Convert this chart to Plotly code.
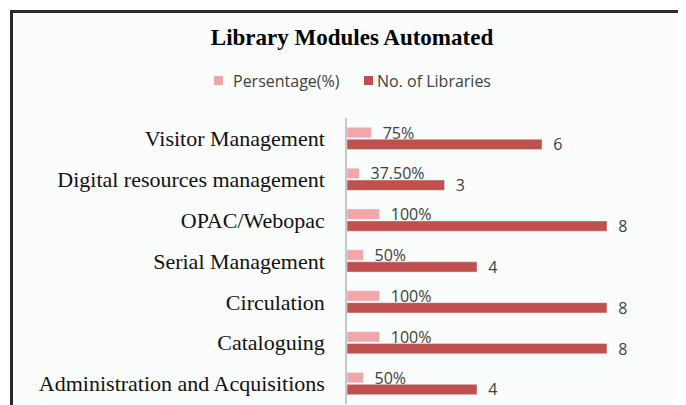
import plotly.graph_objects as go

categories = [
    "Visitor Management",
    "Digital resources management",
    "OPAC/Webopac",
    "Serial Management",
    "Circulation",
    "Cataloguing",
    "Administration and Acquisitions",
]
percentage = [0.75, 0.375, 1.0, 0.5, 1.0, 1.0, 0.5]
percentage_labels = ["75%", "37.50%", "100%", "50%", "100%", "100%", "50%"]
libraries = [6, 3, 8, 4, 8, 8, 4]
series_names = ["Persentage(%)", "No. of Libraries"]
series_colors = ["#f2a6aa", "#c0504d"]

# the page body has an 8px margin; the figure fills the rest of the window
OFF = 8
W, H = 686 - OFF, 405 - OFF
L, R, T, B = 347 - OFF, 14, 118 - OFF, 9 - OFF
pw, ph = W - L - R, H - T - B


def px_x(px):
    return (px - OFF - L) / pw


def px_y(py):
    return (H - B - (py - OFF)) / ph


label_font = dict(family="Open Sans", size=16, color="#404040")

fig = go.Figure()
fig.add_trace(go.Bar(
    y=categories, x=percentage, orientation="h", name=series_names[0],
    marker=dict(color=series_colors[0]),
    text=percentage_labels, texttemplate="\u00a0\u00a0%{text}",
    textposition="outside", textfont=label_font, cliponaxis=False,
    hoverinfo="skip",
))
fig.add_trace(go.Bar(
    y=categories, x=libraries, orientation="h", name=series_names[1],
    marker=dict(color=series_colors[1]),
    texttemplate="\u00a0\u00a0%{x}",
    textposition="outside", textfont=label_font, cliponaxis=False,
    hoverinfo="skip",
))

shapes = [
    dict(type="rect", xref="paper", yref="paper",
         x0=px_x(11.5), x1=px_x(700), y0=px_y(420), y1=px_y(11.5),
         fillcolor="#fbfcfc", line=dict(width=0), layer="below"),
    dict(type="line", xref="paper", yref="paper",
         x0=px_x(10), x1=px_x(700), y0=px_y(11.5), y1=px_y(11.5),
         line=dict(color="#2a2a2a", width=3)),
    dict(type="line", xref="paper", yref="paper",
         x0=px_x(11.5), x1=px_x(11.5), y0=px_y(420), y1=px_y(10),
         line=dict(color="#2a2a2a", width=3)),
]

# custom legend (square swatch + text), positioned as in the reference
legend_items = [(214, 231), (364, 375)]
annotations = []
for (sq_x, tx_x), name, color in zip(legend_items, series_names, series_colors):
    shapes.append(dict(type="rect", xref="paper", yref="paper",
                       x0=px_x(sq_x), x1=px_x(sq_x + 9),
                       y0=px_y(85), y1=px_y(76),
                       fillcolor=color, line=dict(width=0)))
    annotations.append(dict(text=name, xref="paper", yref="paper",
                            x=px_x(tx_x), y=px_y(80.5), xanchor="left",
                            yanchor="middle", showarrow=False,
                            font=dict(family="Open Sans", size=16, color="#404040")))

fig.update_layout(
    width=W, height=H,
    margin=dict(l=L, r=R, t=T, b=B, autoexpand=False),
    paper_bgcolor="white",
    plot_bgcolor="rgba(0,0,0,0)",
    barmode="group", bargap=0.42, bargroupgap=0.13,
    title=dict(text="<b>Library Modules Automated</b>",
               font=dict(family="Liberation Serif", size=23, color="black"),
               x=(352 - OFF) / W, xanchor="center", xref="container",
               y=1 - (37 - OFF) / H, yanchor="middle", yref="container"),
    showlegend=False,
    xaxis=dict(range=[0, 10], visible=False, fixedrange=True, automargin=False),
    yaxis=dict(autorange="reversed", showline=True, linecolor="#c4c8cc",
               linewidth=1.5, showgrid=False, ticks="outside", ticklen=16,
               tickcolor="rgba(0,0,0,0)", automargin=False,
               tickfont=dict(family="Liberation Serif", size=22, color="#111111")),
    shapes=shapes,
    annotations=annotations,
)
fig.update_traces(constraintext="none")

fig.write_html("out.html")
